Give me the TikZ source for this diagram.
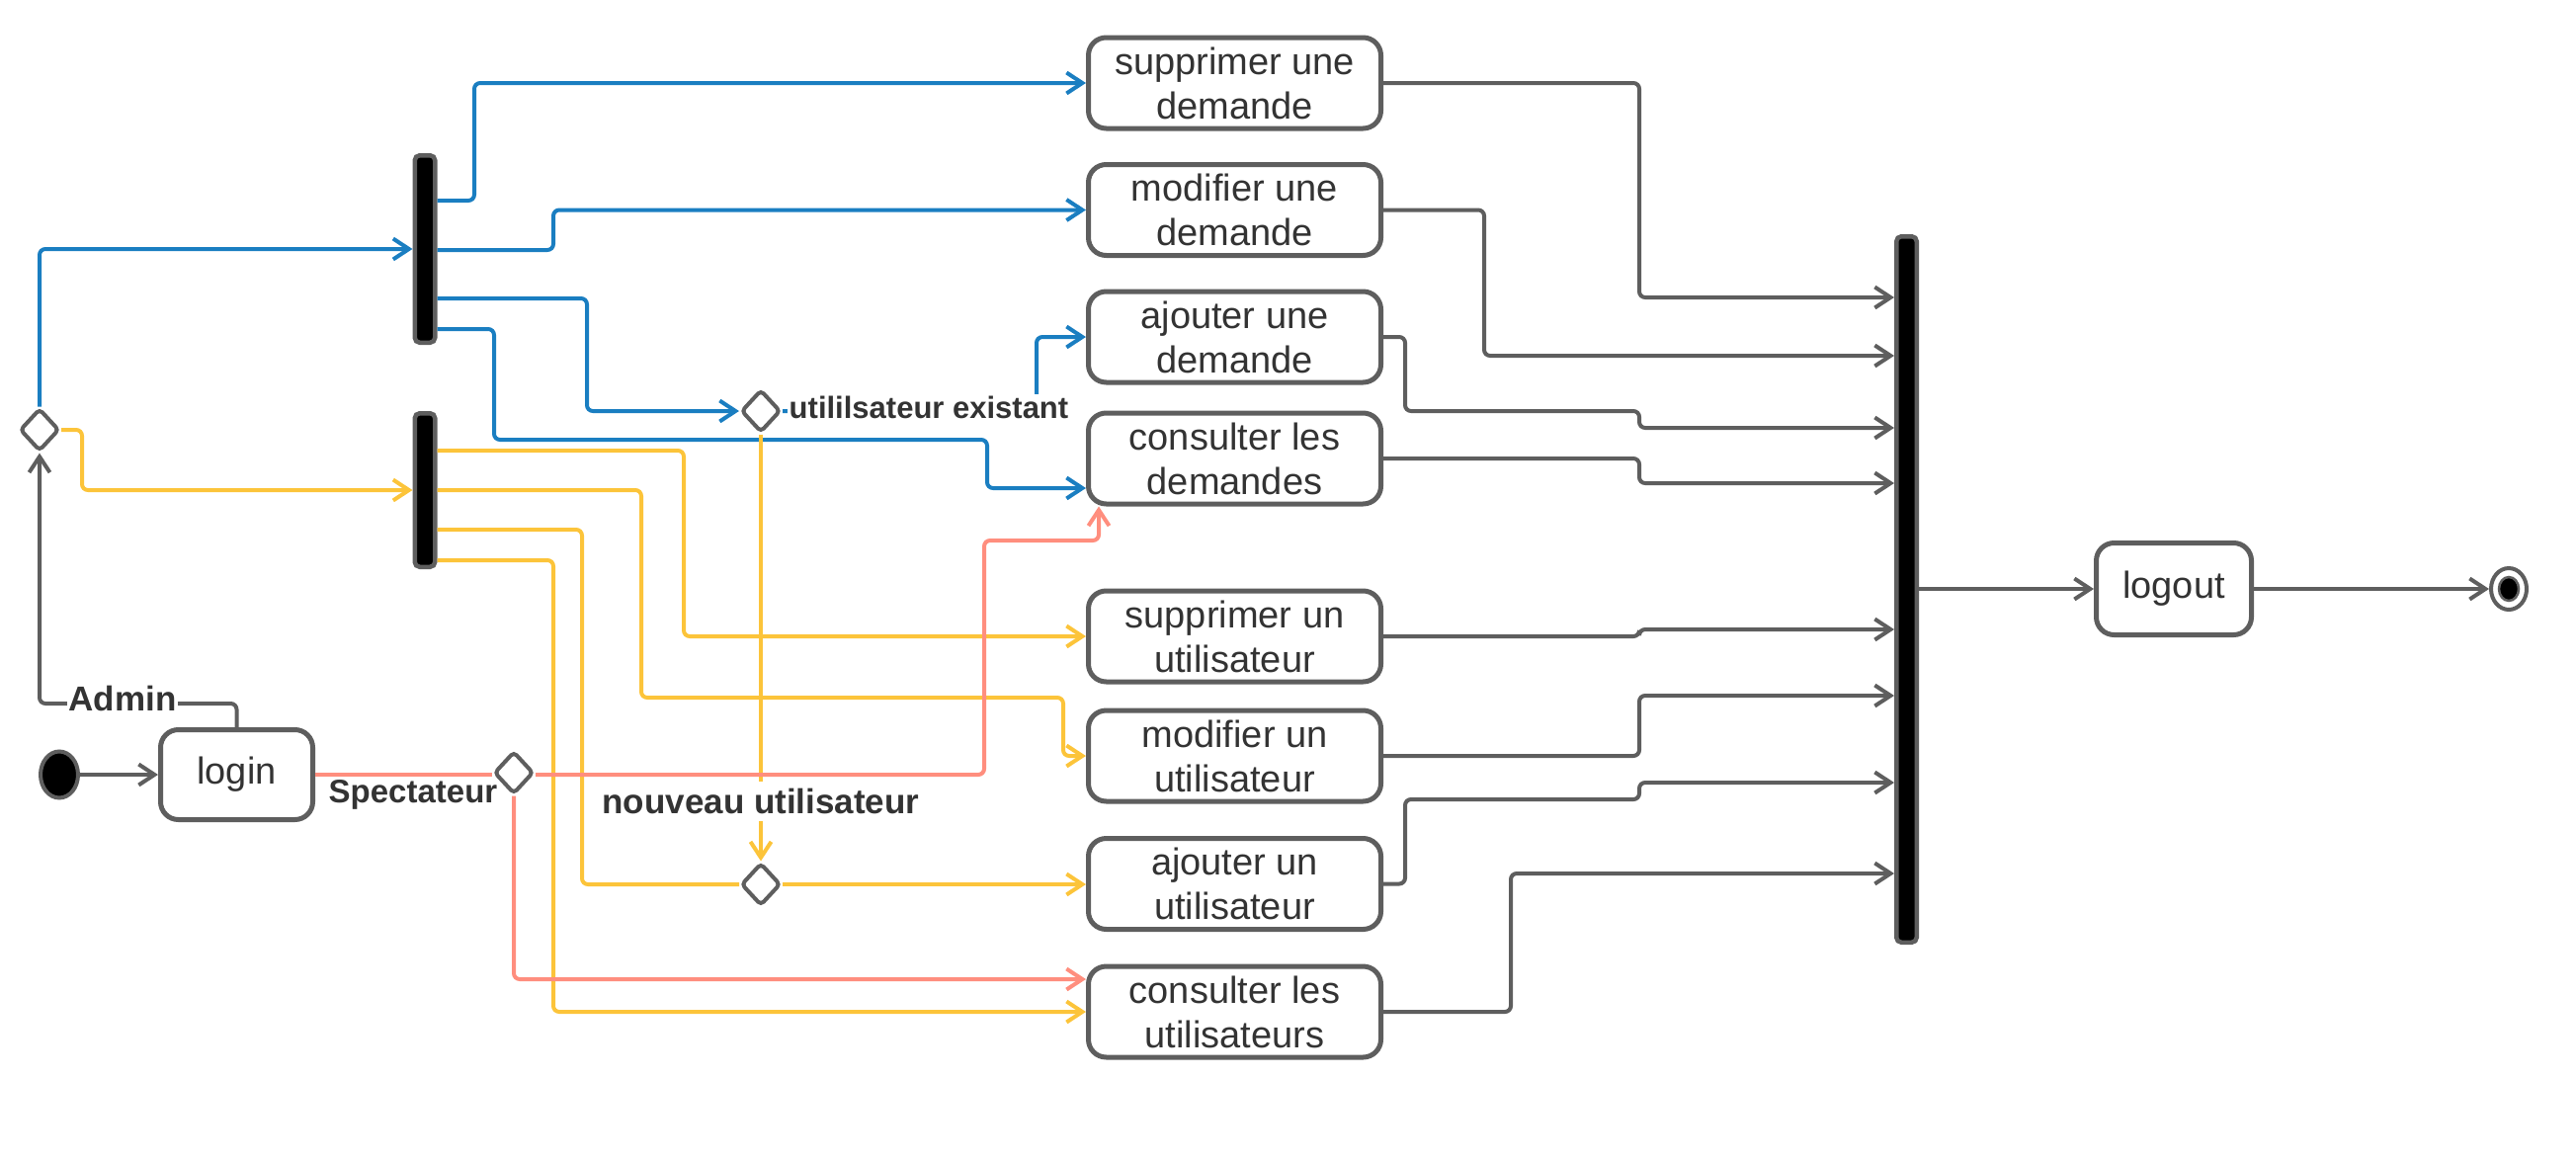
\documentclass[tikz,border=0pt]{standalone}
\usepackage{fontspec}
\setmainfont{Liberation Sans}
\usetikzlibrary{arrows.meta,shapes.geometric}
\definecolor{gc}{HTML}{5E5E5E}
\definecolor{bl}{HTML}{1A7EC1}
\definecolor{yl}{HTML}{FCC43A}
\definecolor{sa}{HTML}{FF8E7E}
\definecolor{tx}{HTML}{333333}
\begin{document}
\begin{tikzpicture}[x=1pt,y=-1pt,
  conn/.style={line width=4pt, rounded corners=6pt},
  arr/.style={-{Straight Barb[length=16pt,width=21pt]}},
  act/.style={draw=gc, line width=5pt, rounded corners=18pt, fill=white, minimum width=296, minimum height=92, align=center, text=tx, font=\fontsize{38}{45}\selectfont, inner sep=0},
  barnode/.style={draw=gc, fill=black, line width=4.5pt, rounded corners=5pt, minimum width=20.5, minimum height=#1, inner sep=0},
  dec/.style={diamond, draw=gc, fill=white, line width=4pt, minimum width=40, minimum height=43, inner sep=0, rounded corners=4pt},
  lbl/.style={text=tx, font=\bfseries\fontsize{35}{40}\selectfont, inner sep=2pt}
]
\useasboundingbox (0,0) rectangle (2607,1175);

% nodes
\node[draw=gc, fill=black, line width=4pt, ellipse, minimum width=38, minimum height=47, inner sep=0] (start) at (60,784) {};
\node[act, minimum width=154, minimum height=91] (login) at (239.5,784) {login};
\node[dec] (d1) at (40,435) {};
\node[dec] (d2) at (770,416) {};
\node[dec] (d3) at (520,782) {};
\node[dec] (d4) at (770,895) {};
\node[barnode=189.5] (bar1) at (430,252) {};
\node[barnode=155.5] (bar2) at (430,496) {};
\node[barnode=714.5] (bar3) at (1929.5,596.5) {};
\node[act] (b1) at (1249.5,84) {supprimer une\\demande};
\node[act] (b2) at (1249.5,212.5) {modifier une\\demande};
\node[act] (b3) at (1249.5,341) {ajouter une\\demande};
\node[act] (b4) at (1249.5,464) {consulter les\\demandes};
\node[act] (b5) at (1249.5,644) {supprimer un\\utilisateur};
\node[act] (b6) at (1249.5,765) {modifier un\\utilisateur};
\node[act] (b7) at (1249.5,894.5) {ajouter un\\utilisateur};
\node[act] (b8) at (1249.5,1024) {consulter les\\utilisateurs};
\node[act, minimum width=157, minimum height=93] (logout) at (2200,596) {logout};
\node[ellipse, draw=gc, line width=4pt, fill=white, minimum width=36, minimum height=42, inner sep=0] (final) at (2539,596) {};
\fill[black, draw=gc, line width=2.5pt] (final.center) ellipse [x radius=10, y radius=12];

% gray
\draw[conn,gc,arr] (start.east) -- (login.west |- start.east);
\draw[conn,gc,arr] (login.north) -- (login.north |- 0,712) -- (d1.south |- 0,712) -- (d1.south);

% blue
\draw[conn,bl,arr] (d1.north) |- (bar1.west);
\draw[conn,bl,arr] (bar1.east |- 0,203) -- (480,203) -- (480,0 |- b1.west) -- (b1.west);
\draw[conn,bl,arr] (bar1.east |- 0,253) -- (560,253) -- (560,0 |- b2.west) -- (b2.west);
\draw[conn,bl,arr] (bar1.east |- 0,302) -- (594,302) -- (594,0 |- d2.west) -- (d2.west);
\draw[conn,bl,arr] (bar1.east |- 0,333) -- (500,333) -- (500,445) -- (999,445) -- (999,494) -- (b4.west |- 0,494);
\draw[conn,bl,arr] (d2.east) -- (1049,0 |- d2.east) -- (1049,0 |- b3.west) -- (b3.west);

% yellow
\draw[conn,yl,arr] (d1.east) -- (83,0 |- d1.east) -- (83,0 |- bar2.west) -- (bar2.west);
\draw[conn,yl,arr] (bar2.east |- 0,456) -- (692,456) -- (692,0 |- b5.west) -- (b5.west);
\draw[conn,yl,arr] (bar2.east) -- (649,0 |- bar2.east) -- (649,706) -- (1076,706) -- (1076,0 |- b6.west) -- (b6.west);
\draw[conn,yl] (bar2.east |- 0,536) -- (589,536) -- (589,0 |- d4.west) -- (d4.west);
\draw[conn,yl,arr] (bar2.east |- 0,567) -- (560,567) -- (560,0 |- b8.west) -- (b8.west);
\draw[conn,yl,arr] (d2.south) -- (d4.north);
\draw[conn,yl,arr] (d4.east) -- (b7.west |- d4.east);

% salmon
\draw[conn,sa] (login.east) -- (d3.west |- login.east);
\draw[conn,sa,arr] (d3.east |- login.east) -- (996,0 |- login.east) -- (996,547) -- (1112,547) -- (1112,0 |- b4.south);
\draw[conn,sa,arr] (d3.south) -- (d3.south |- 0,991) -- (b8.west |- 0,991);

% to join bar
\draw[conn,gc,arr] (b1.east) -- (1659,0 |- b1.east) -- (1659,301) -- (bar3.west |- 0,301);
\draw[conn,gc,arr] (b2.east) -- (1502,0 |- b2.east) -- (1502,360) -- (bar3.west |- 0,360);
\draw[conn,gc,arr] (b3.east) -- (1422,0 |- b3.east) -- (1422,416) -- (1659,416) -- (1659,433) -- (bar3.west |- 0,433);
\draw[conn,gc,arr] (b4.east) -- (1659,0 |- b4.east) -- (1659,489) -- (bar3.west |- 0,489);
\draw[conn,gc,arr] (b5.east) -- (1659,0 |- b5.east) -- (1659,637) -- (bar3.west |- 0,637);
\draw[conn,gc,arr] (b6.east) -- (1659,0 |- b6.east) -- (1659,704) -- (bar3.west |- 0,704);
\draw[conn,gc,arr] (b7.east) -- (1422,0 |- b7.east) -- (1422,809) -- (1659,809) -- (1659,792) -- (bar3.west |- 0,792);
\draw[conn,gc,arr] (b8.east) -- (1529,0 |- b8.east) -- (1529,884) -- (bar3.west |- 0,884);
\draw[conn,gc,arr] (bar3.east |- logout.west) -- (logout.west);
\draw[conn,gc,arr] (logout.east) -- (final.west);

% labels
\node[lbl, fill=white] (la) at (124,707) {Admin};
\node[lbl, font=\bfseries\fontsize{33}{38}\selectfont] (ls) at (418,804) {Spectateur};
\node[lbl, fill=white, font=\bfseries\fontsize{31}{36}\selectfont] (le) at (940,412) {utililsateur existant};
\node[lbl, fill=white, inner sep=7pt] (ln) at (770,811) {nouveau utilisateur};
\end{tikzpicture}
\end{document}
